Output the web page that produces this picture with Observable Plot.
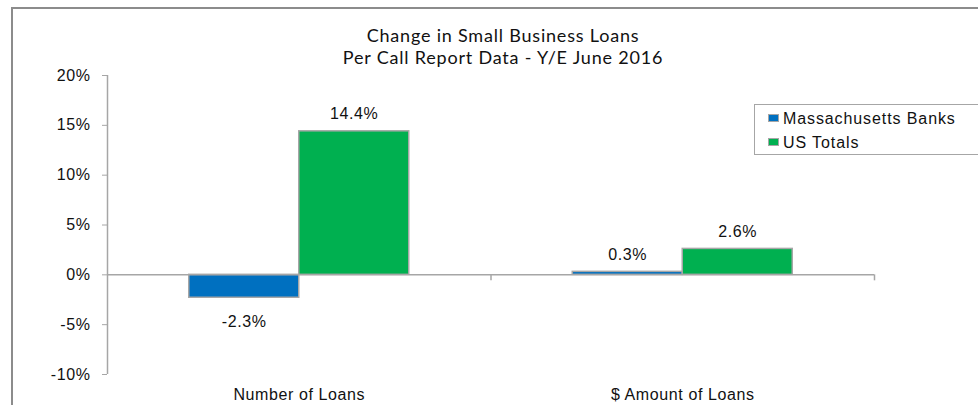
<!DOCTYPE html>
<html>
<head>
<meta charset="utf-8">
<script src="https://cdn.jsdelivr.net/npm/d3@7"></script>
<script src="https://cdn.jsdelivr.net/npm/@observablehq/plot@0.6"></script>
<style>
  html, body { margin: 0; padding: 0; background: #fff; }
  #wrap { position: relative; width: 978px; height: 405px; overflow: hidden; font-family: "Liberation Sans", Arial, sans-serif; }
  #border { position: absolute; left: 11px; top: 7px; width: 1000px; height: 500px; border: 2px solid #8c8c8c; box-sizing: border-box; pointer-events: none; z-index: 3; }
  #title { position: absolute; left: 253px; width: 500px; top: 24px; text-align: center; font-family: Lato, "Open Sans", sans-serif; font-size: 18px; letter-spacing: 0.8px; line-height: 22px; color: #111; z-index: 2; }
  #legend { position: absolute; left: 754px; top: 104px; width: 300px; height: 51px; border: 1.5px solid #a6a6a6; box-sizing: border-box; background: #fff; z-index: 2; }
  .item { position: absolute; left: 13px; font-size: 16px; letter-spacing: 0.9px; color: #111; line-height: 18px; }
  .sw { display: inline-block; width: 9px; height: 6px; border: 1px solid #a6a6a6; margin-right: 4px; vertical-align: 2px; }
  #chart { position: absolute; left: 0; top: 0; z-index: 1; }
</style>
</head>
<body>
<div id="wrap">
  <div id="chart"></div>
  <div id="border"></div>
  <div id="title"></div>
  <div id="legend"></div>
</div>
<script>
const titleLines = ["Change in Small Business Loans", "Per Call Report Data - Y/E June 2016"];
const categories = ["Number of Loans", "$ Amount of Loans"];
const seriesNames = ["Massachusetts Banks", "US Totals"];
const seriesColors = ["#0070C0", "#00B050"];
const maValues = [-2.3, 0.3];
const usValues = [14.4, 2.6];
const yTicks = [-10, -5, 0, 5, 10, 15, 20];

document.getElementById("title").innerHTML = titleLines.map(t => `<div>${t}</div>`).join("");
document.getElementById("legend").innerHTML = seriesNames.map((s, i) =>
  `<div class="item" style="top:${5 + i * 24}px"><span class="sw" style="background:${seriesColors[i]}"></span>${s}</div>`
).join("");

const W = 0.2868; // bar width as fraction of category band
const rows = [];
categories.forEach((c, i) => {
  [maValues[i], usValues[i]].forEach((v, s) => {
    const x1 = i + 0.5 + (s === 0 ? -W : 0);
    rows.push({cat: c, series: seriesNames[s], value: v, x1, x2: x1 + W, xm: x1 + W / 2});
  });
});

const grey = "#a6a6a6";
const fs = 16;
const chart = Plot.plot({
  width: 978,
  height: 405,
  marginLeft: 107,
  marginRight: 104,
  marginTop: 75,
  marginBottom: 31,
  style: {fontFamily: '"Liberation Sans", Arial, sans-serif', fontSize: fs + "px", color: "#111", background: "transparent", letterSpacing: "0.6px"},
  x: {domain: [0, 2], axis: null},
  y: {domain: [-10, 20], axis: null},
  color: {domain: seriesNames, range: seriesColors},
  marks: [
    Plot.ruleX([0], {stroke: grey, strokeWidth: 1.5}),
    Plot.axisY({ticks: yTicks, tickFormat: d => d + "%", tickSize: 5, tickPadding: 12, stroke: grey, fill: "#111", fontSize: fs, label: null}),
    Plot.axisX({ticks: [0.5, 1.5], tickFormat: d => categories[Math.floor(d)], tickSize: 0, tickPadding: 14, fill: "#111", fontSize: fs, label: null}),
    Plot.rectY(rows, {x1: "x1", x2: "x2", y1: 0, y2: "value", fill: "series", stroke: grey, strokeWidth: 1.5}),
    Plot.ruleY([0], {stroke: grey, strokeWidth: 1.5}),
    Plot.ruleX([1, 2], {y1: 0, y2: -0.6, stroke: grey, strokeWidth: 1.5}),
    Plot.text(rows.filter(d => d.value >= 0), {x: "xm", y: "value", text: d => d.value.toFixed(1) + "%", dy: -17, fill: "#111", fontSize: fs}),
    Plot.text(rows.filter(d => d.value < 0), {x: "xm", y: "value", text: d => d.value.toFixed(1) + "%", dy: 24, fill: "#111", fontSize: fs})
  ]
});
document.getElementById("chart").appendChild(chart);
</script>
</body>
</html>
